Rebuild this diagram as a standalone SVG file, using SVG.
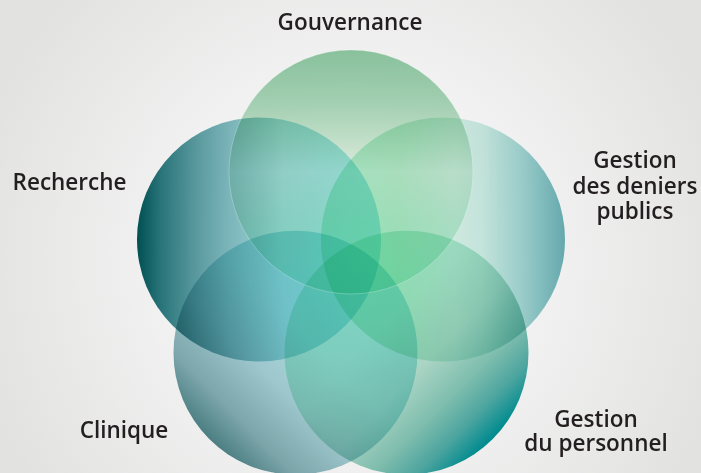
<svg xmlns="http://www.w3.org/2000/svg" width="701" height="473" viewBox="0 0 701 473">
<defs>
<radialGradient id="bg" cx="351" cy="260" r="390" gradientUnits="userSpaceOnUse">
<stop offset="0" stop-color="#fafbfa"/>
<stop offset="0.5" stop-color="#f0f1f0"/>
<stop offset="1" stop-color="#e2e2e1"/>
</radialGradient>
<linearGradient id="gGouv" x1="0" y1="0" x2="0" y2="1">
<stop offset="0" stop-color="#92cda7"/>
<stop offset="0.2" stop-color="#a9d9b9"/>
<stop offset="0.36" stop-color="#c8e7d0"/>
<stop offset="0.5" stop-color="#e6f4e8"/>
<stop offset="0.7" stop-color="#d4f2e0"/>
<stop offset="1" stop-color="#c4f6e2"/>
</linearGradient>
<linearGradient id="gRech" x1="0" y1="0" x2="1" y2="0">
<stop offset="0" stop-color="#005458"/>
<stop offset="0.1" stop-color="#2c7c82"/>
<stop offset="0.25" stop-color="#60a3a9"/>
<stop offset="0.38" stop-color="#82bec3"/>
<stop offset="0.6" stop-color="#a8e0e4"/>
<stop offset="1" stop-color="#aaeef0"/>
</linearGradient>
<linearGradient id="gDen" x1="0" y1="0" x2="1" y2="0">
<stop offset="0" stop-color="#bcf4da"/>
<stop offset="0.32" stop-color="#c4f0d8"/>
<stop offset="0.55" stop-color="#d6f2e8"/>
<stop offset="0.66" stop-color="#cdeee6"/>
<stop offset="0.82" stop-color="#a4d8d6"/>
<stop offset="1" stop-color="#6cb4ba"/>
</linearGradient>
<linearGradient id="gClin" x1="1" y1="0" x2="0" y2="1">
<stop offset="0" stop-color="#acf0ee"/>
<stop offset="0.45" stop-color="#aee2e6"/>
<stop offset="0.6" stop-color="#a6d0d8"/>
<stop offset="0.75" stop-color="#84b0b6"/>
<stop offset="0.88" stop-color="#437d81"/>
<stop offset="1" stop-color="#2a666a"/>
</linearGradient>
<linearGradient id="gPers" x1="0" y1="0" x2="1" y2="1">
<stop offset="0" stop-color="#c4f6e2"/>
<stop offset="0.4" stop-color="#c0eeda"/>
<stop offset="0.56" stop-color="#b2deCe"/>
<stop offset="0.68" stop-color="#86c8b8"/>
<stop offset="0.77" stop-color="#52afaa"/>
<stop offset="0.85" stop-color="#00959a"/>
<stop offset="1" stop-color="#00898f"/>
</linearGradient>
</defs>
<style>
.c { mix-blend-mode: multiply; }
.lbl { font-family: "Open Sans", "Noto Sans", "Liberation Sans", sans-serif; font-weight: 600; font-size: 22.5px; fill: #231f20; text-anchor: middle; }
</style>
<rect width="701" height="473" fill="url(#bg)"/>
<g id="recherche">
<circle class="c" cx="259" cy="239.5" r="122" fill="url(#gRech)"/>
<text class="lbl" x="69.5" y="190">Recherche</text>
</g>
<g id="gestion-deniers-publics">
<circle class="c" cx="443" cy="239.5" r="122" fill="url(#gDen)"/>
<text class="lbl"><tspan x="635" y="167.5">Gestion</tspan><tspan x="635" y="193.5">des deniers</tspan><tspan x="635" y="218.5">publics</tspan></text>
</g>
<g id="clinique">
<circle class="c" cx="295.5" cy="352.7" r="122" fill="url(#gClin)"/>
<text class="lbl" x="124" y="438">Clinique</text>
</g>
<g id="gestion-personnel">
<circle class="c" cx="406.5" cy="352.7" r="122" fill="url(#gPers)"/>
<text class="lbl"><tspan x="596" y="426.5">Gestion</tspan><tspan x="596" y="450.5">du personnel</tspan></text>
</g>
<g id="gouvernance">
<circle class="c" cx="351" cy="172" r="122" fill="url(#gGouv)"/>
<circle cx="351" cy="172" r="122" fill="none" stroke="#ffffff" stroke-opacity="0.35" stroke-width="0.7"/>
<text class="lbl" x="350" y="30">Gouvernance</text>
</g>
</svg>
